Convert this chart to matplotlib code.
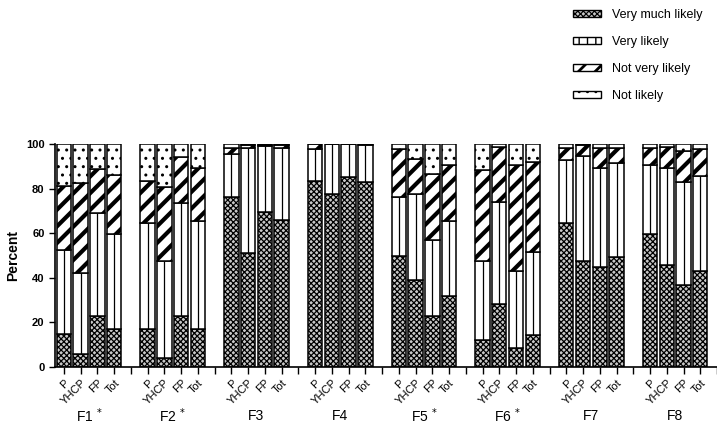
import matplotlib
matplotlib.use("Agg")
import matplotlib.pyplot as plt
from matplotlib.patches import Patch
import numpy as np

plt.rcParams["font.family"] = ["Liberation Sans", "DejaVu Sans"]

groups = ["F1", "F2", "F3", "F4", "F5", "F6", "F7", "F8"]
starred = [True, True, False, False, True, True, False, False]
subgroups = ["P", "YHCP", "FP", "Tot"]
categories = ["Very much likely", "Very likely", "Not very likely", "Not likely"]

# percent per group, order P, YHCP, FP, Tot
very_much_likely = [
    [14.7, 5.7, 22.9, 16.9], [16.9, 3.7, 22.9, 16.9], [76.3, 50.9, 69.3, 65.9],
    [83.5, 77.4, 85.0, 82.9], [49.8, 38.8, 22.8, 31.7], [12.0, 28.2, 8.2, 14.1],
    [64.4, 47.6, 44.9, 49.3], [59.6, 45.7, 36.5, 43.1],
]
very_likely = [
    [37.7, 36.2, 46.3, 42.5], [47.5, 43.8, 50.8, 48.7], [19.2, 47.4, 29.7, 32.5],
    [14.1, 22.6, 15.0, 16.7], [26.3, 38.6, 34.1, 33.7], [35.6, 45.6, 34.9, 37.5],
    [28.4, 47.1, 44.5, 42.0], [30.8, 43.7, 46.3, 42.7],
]
not_very_likely = [
    [28.7, 40.7, 19.4, 26.7], [19.1, 33.3, 20.6, 23.5], [2.6, 1.3, 0.7, 1.2],
    [2.4, 0.0, 0.0, 0.4], [21.7, 15.7, 29.8, 25.0], [40.7, 24.7, 47.5, 40.5],
    [5.3, 4.9, 8.9, 7.0], [7.7, 9.1, 14.2, 12.0],
]
not_likely = [
    [18.9, 17.4, 11.4, 13.9], [16.5, 19.2, 5.7, 10.9], [1.9, 0.4, 0.3, 0.4],
    [0.0, 0.0, 0.0, 0.0], [2.2, 6.9, 13.3, 9.6], [11.7, 1.5, 9.4, 7.9],
    [1.9, 0.4, 1.7, 1.7], [1.9, 1.5, 3.0, 2.2],
]

series = [very_much_likely, very_likely, not_very_likely, not_likely]
hatches = ["xxxxxx", "", "//", ".."]
hatch_lw = [0.9, 1.0, 3.0, 1.0]
faces = ["#c8c8c8", "white", "white", "white"]


def set_hlw(patch, lw):
    try:
        patch.set_hatch_linewidth(lw)
    except AttributeError:
        pass


fig = plt.figure(figsize=(7.17, 4.33), dpi=100)
ax = fig.add_axes([55 / 717, 66.3 / 433, 662 / 717, 222.7 / 433])

n_sub = len(subgroups)
slot = n_sub + 1
x = np.array([g * slot + i for g in range(len(groups)) for i in range(n_sub)], dtype=float)
width = 0.86

bottom = np.zeros(len(x))
for vals, hatch, hlw, fc in zip(series, hatches, hatch_lw, faces):
    h = np.array(vals).ravel()
    bars = ax.bar(x, h, width, bottom=bottom, facecolor=fc, edgecolor="black",
                  linewidth=1.1, hatch=hatch)
    for b in bars:
        set_hlw(b, hlw)
    if vals is very_likely:
        ax.vlines(x, bottom, bottom + h, color="black", linewidth=0.9)
    bottom = bottom + h

ax.set_ylim(0, 100)
ax.set_xlim(-0.53, x[-1] + 0.5)
ax.set_yticks(np.arange(0, 101, 20))
ax.set_ylabel("Percent", fontsize=10, fontweight="bold", labelpad=4)
for lab in ax.get_yticklabels():
    lab.set_fontweight("bold")
ax.tick_params(axis="y", labelsize=8, length=4, width=1)

ax.set_xticks(x)
ax.set_xticklabels(subgroups * len(groups), rotation=45, ha="right",
                   rotation_mode="anchor", fontsize=8)
gap_ticks = [g * slot - 1 for g in range(1, len(groups))] + [x[-1] + 1]
ax.set_xticks(gap_ticks, minor=True)
ax.tick_params(axis="x", which="both", length=5, width=1, pad=3)
ax.spines["top"].set_visible(False)
ax.spines["right"].set_visible(False)
ax.spines["left"].set_linewidth(1.2)
ax.spines["bottom"].set_linewidth(1.2)

for g, (name, star) in enumerate(zip(groups, starred)):
    label = name + r" $^{*}$" if star else name
    cx = g * slot + (n_sub - 1) / 2
    ax.text(cx, -0.22, label, transform=ax.get_xaxis_transform(),
            ha="center", va="center", fontsize=10)

handles = [Patch(facecolor=fc, edgecolor="black", hatch=hatch, label=cat)
           for cat, hatch, fc in zip(categories, ["xxxxxx", "||", "//", ".."], faces)]
leg = fig.legend(handles=handles, loc="upper left", bbox_to_anchor=(562 / 717, 1.005),
                 frameon=False, fontsize=9, handlelength=2.2, handleheight=0.5,
                 labelspacing=1.2, handletextpad=0.9)
for p, hlw in zip(leg.get_patches(), hatch_lw):
    set_hlw(p, min(hlw, 2.0))

fig.savefig("out.png", dpi=100)
